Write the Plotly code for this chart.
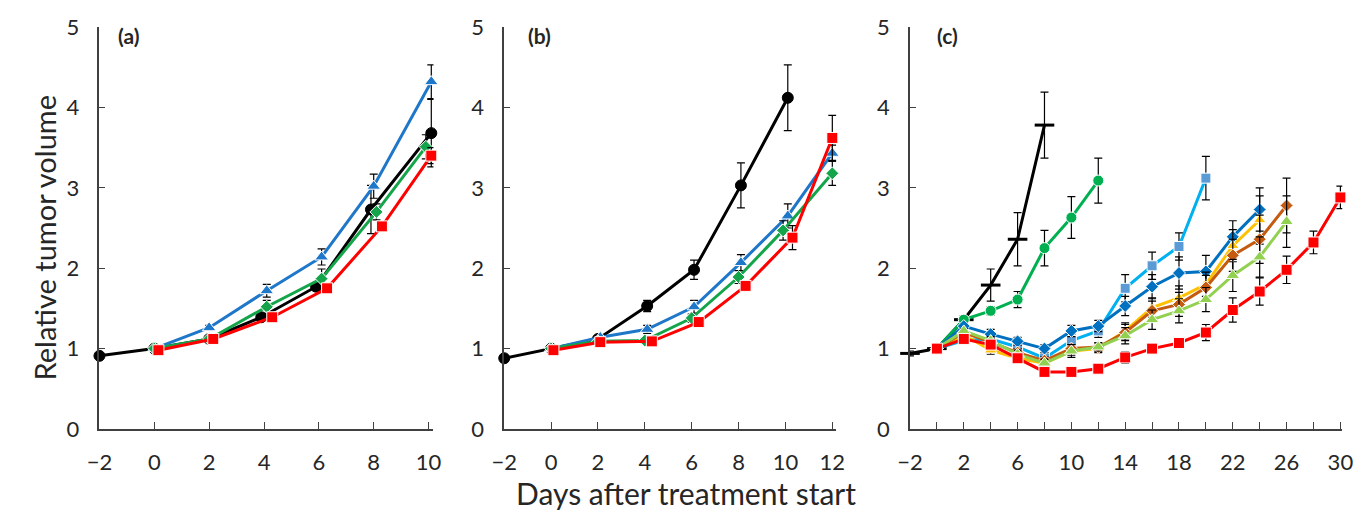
import plotly.graph_objects as go

# ---------------- data ----------------
# Panel (a)
a_black_x = [-2, 0, 2, 3.9, 5.9, 7.9, 10.1]
a_black_y = [0.91, 1.0, 1.12, 1.39, 1.77, 2.73, 3.68]
a_black_e = [0, 0, 0, 0.03, 0.05, 0.3, 0.42]
a_blue_x = [0, 2, 4.1, 6.1, 8.0, 10.1]
a_blue_y = [1.0, 1.26, 1.72, 2.14, 3.02, 4.32]
a_blue_e = [0, 0.03, 0.08, 0.1, 0.15, 0.21]
a_green_x = [0, 2, 4.1, 6.1, 8.1, 9.9]
a_green_y = [1.0, 1.12, 1.52, 1.87, 2.70, 3.51]
a_green_e = [0, 0.02, 0.08, 0.12, 0.1, 0.15]
a_red_x = [0.15, 2.15, 4.3, 6.3, 8.3, 10.1]
a_red_y = [0.98, 1.12, 1.39, 1.75, 2.52, 3.40]
a_red_e = [0, 0.02, 0.03, 0.04, 0.05, 0.1]

# Panel (b)
b_black_x = [-2, 0, 2, 4.1, 6.1, 8.1, 10.1]
b_black_y = [0.88, 1.0, 1.12, 1.53, 1.98, 3.03, 4.12]
b_black_e = [0, 0, 0, 0.07, 0.12, 0.28, 0.41]
b_blue_x = [0, 2.1, 4.1, 6.1, 8.1, 10.1, 12]
b_blue_y = [1.0, 1.14, 1.24, 1.52, 2.07, 2.65, 3.43]
b_blue_e = [0, 0.02, 0.05, 0.08, 0.1, 0.15, 0.1]
b_green_x = [0, 2, 4, 6, 8, 9.9, 12]
b_green_y = [1.0, 1.09, 1.10, 1.38, 1.89, 2.47, 3.18]
b_green_e = [0, 0.02, 0.03, 0.05, 0.08, 0.12, 0.15]
b_red_x = [0.1, 2.1, 4.3, 6.3, 8.3, 10.3, 12]
b_red_y = [0.98, 1.08, 1.09, 1.33, 1.78, 2.38, 3.62]
b_red_e = [0, 0.02, 0.02, 0.04, 0.06, 0.15, 0.28]

# Panel (c)
c_black_x = [-2, 0, 2, 4, 6, 8]
c_black_y = [0.94, 1.0, 1.36, 1.79, 2.36, 3.78]
c_black_e = [0.03, 0, 0.05, 0.2, 0.33, 0.41]
c_green_x = [0, 2, 4, 6, 8, 10, 12]
c_green_y = [1.0, 1.36, 1.47, 1.61, 2.25, 2.63, 3.09]
c_green_e = [0, 0.03, 0.05, 0.1, 0.22, 0.26, 0.28]
c_lblue_x = [0, 2, 4, 6, 8, 10, 12, 14, 16, 18, 20]
c_lblue_y = [1.0, 1.10, 1.12, 1.02, 0.88, 1.10, 1.22, 1.75, 2.03, 2.27, 3.12]
c_lblue_e = [0, 0.03, 0.05, 0.05, 0.06, 0.08, 0.08, 0.17, 0.17, 0.17, 0.27]
c_dblue_x = [0, 2, 4, 6, 8, 10, 12, 14, 16, 18, 20, 22, 24]
c_dblue_y = [1.0, 1.28, 1.18, 1.09, 1.0, 1.22, 1.28, 1.53, 1.77, 1.94, 1.96, 2.39, 2.73]
c_dblue_e = [0, 0.03, 0.06, 0.05, 0.05, 0.07, 0.07, 0.12, 0.15, 0.2, 0.2, 0.2, 0.27]
c_yellow_x = [0, 2, 4, 6, 8, 10, 12, 14, 16, 18, 20, 22, 24]
c_yellow_y = [1.0, 1.17, 0.98, 0.88, 0.82, 0.97, 1.0, 1.22, 1.51, 1.63, 1.80, 2.28, 2.60]
c_yellow_e = [0, 0.04, 0.05, 0.05, 0.05, 0.05, 0.05, 0.1, 0.12, 0.15, 0.15, 0.2, 0.3]
c_brown_x = [0, 2, 4, 6, 8, 10, 12, 14, 16, 18, 20, 22, 24, 26]
c_brown_y = [1.0, 1.2, 1.08, 0.95, 0.85, 1.0, 1.02, 1.2, 1.47, 1.55, 1.76, 2.16, 2.36, 2.78]
c_brown_e = [0, 0.03, 0.05, 0.05, 0.05, 0.05, 0.05, 0.1, 0.12, 0.15, 0.15, 0.2, 0.3, 0.34]
c_lgreen_x = [0, 2, 4, 6, 8, 10, 12, 14, 16, 18, 20, 22, 24, 26]
c_lgreen_y = [1.0, 1.22, 1.1, 0.93, 0.82, 0.97, 1.02, 1.16, 1.36, 1.47, 1.61, 1.91, 2.14, 2.58]
c_lgreen_e = [0, 0.03, 0.05, 0.05, 0.05, 0.08, 0.05, 0.1, 0.12, 0.15, 0.15, 0.2, 0.25, 0.32]
c_red_x = [0, 2, 4, 6, 8, 10, 12, 14, 16, 18, 20, 22, 24, 26, 28, 30]
c_red_y = [1.0, 1.12, 1.05, 0.88, 0.71, 0.71, 0.75, 0.89, 1.0, 1.07, 1.2, 1.48, 1.71, 1.98, 2.32, 2.88]
c_red_e = [0, 0.03, 0.04, 0.04, 0.03, 0.03, 0.03, 0.07, 0.05, 0.06, 0.1, 0.15, 0.17, 0.17, 0.14, 0.14]

x_ticks_ab = [-2, 0, 2, 4, 6, 8, 10, 12]
y_ticks = [0, 1, 2, 3, 4, 5]
panel_labels = ["(a)", "(b)", "(c)"]
x_title = "Days after treatment start"
y_title = "Relative tumor volume"

# ---------------- styles ----------------
FONT = "Lato"
AXC = "#404040"
TXT = "#262626"

fig = go.Figure()


def add(x, y, e, color, symbol, size, xa, ya, mcolor=None, lw=3, mline="white"):
    fig.add_trace(go.Scatter(
        x=x, y=y, xaxis=xa, yaxis=ya, mode="lines+markers",
        line=dict(color=color, width=lw),
        marker=dict(symbol=symbol, size=size, color=mcolor or color,
                    line=dict(color=mline, width=1)),
        error_y=dict(type="data", array=e, visible=True, color="#000000",
                     thickness=1.2, width=4),
        cliponaxis=False, showlegend=False,
    ))


BLACK = "#000000"
BLUE = "#1F77C9"
GREEN = "#14A54A"
RED = "#FF0000"

# (a)
add(a_black_x, a_black_y, a_black_e, BLACK, "circle", 11, "x", "y", mline=BLACK)
add(a_blue_x, a_blue_y, a_blue_e, BLUE, "triangle-up", 12, "x", "y")
add(a_green_x, a_green_y, a_green_e, GREEN, "diamond", 10, "x", "y")
add(a_red_x, a_red_y, a_red_e, RED, "square", 11, "x", "y")
# (b)
add(b_black_x, b_black_y, b_black_e, BLACK, "circle", 11, "x2", "y2", mline=BLACK)
add(b_blue_x, b_blue_y, b_blue_e, BLUE, "triangle-up", 12, "x2", "y2")
add(b_green_x, b_green_y, b_green_e, GREEN, "diamond", 10, "x2", "y2")
add(b_red_x, b_red_y, b_red_e, RED, "square", 11, "x2", "y2")
# (c)
add(c_black_x, c_black_y, c_black_e, BLACK, "line-ew", 14, "x3", "y3", mline=BLACK)
fig.data[-1].marker.line.width = 3
add(c_green_x, c_green_y, c_green_e, "#00B050", "circle", 11, "x3", "y3")
add(c_lblue_x, c_lblue_y, c_lblue_e, "#00B0F0", "square", 10, "x3", "y3", mcolor="#5B9BD5")
add(c_dblue_x, c_dblue_y, c_dblue_e, "#0070C0", "diamond", 10, "x3", "y3")
add(c_yellow_x, c_yellow_y, c_yellow_e, "#FFC000", "triangle-up", 11, "x3", "y3")
add(c_brown_x, c_brown_y, c_brown_e, "#C55A11", "diamond", 10, "x3", "y3")
add(c_lgreen_x, c_lgreen_y, c_lgreen_e, "#92D050", "triangle-up", 12, "x3", "y3")
add(c_red_x, c_red_y, c_red_e, RED, "square", 11, "x3", "y3")

W = 1368.0
common_x = dict(showline=True, linecolor=AXC, linewidth=1.5, ticks="inside",
                ticklen=7, tickcolor=AXC, tickwidth=1.2, showgrid=False,
                zeroline=False, tickfont=dict(family=FONT, size=22, color=TXT),
                ticklabelstandoff=13)
common_y = dict(showline=True, linecolor=AXC, linewidth=1.5, ticks="inside",
                ticklen=6, tickcolor=AXC, tickwidth=1.2, showgrid=False,
                zeroline=False, range=[0, 5], tickvals=y_ticks,
                tickfont=dict(family=FONT, size=22, color=TXT),
                ticklabelstandoff=14)

fig.update_layout(
    width=1368, height=512,
    margin=dict(l=0, r=0, t=27, b=83),
    plot_bgcolor="white", paper_bgcolor="white",
    xaxis=dict(domain=[88 / W, 428 / W], range=[-2, 10.18], anchor="y",
               tickvals=x_ticks_ab[:7], **common_x),
    yaxis=dict(anchor="x", **common_y),
    xaxis2=dict(domain=[500 / W, 838 / W], range=[-2, 12.17], anchor="y2",
                tickvals=x_ticks_ab, **common_x),
    yaxis2=dict(anchor="x2", **common_y),
    xaxis3=dict(domain=[913 / W, 1353 / W], range=[-2, 30.14], anchor="y3",
                tick0=-2, dtick=4,
                minor=dict(tick0=-2, dtick=2, ticks="inside", ticklen=7,
                           tickcolor=AXC, tickwidth=1.2, showgrid=False),
                **common_x),
    yaxis3=dict(anchor="x3", **common_y),
    annotations=[
        dict(text=y_title, x=32 / W, y=0.475, xref="paper", yref="paper",
             xanchor="center", yanchor="middle",
             textangle=-90, showarrow=False,
             font=dict(family=FONT, size=29, color=TXT)),
        dict(text=x_title, x=685 / W, y=-0.159, xref="paper", yref="paper",
             xanchor="center", yanchor="middle",
             showarrow=False, font=dict(family=FONT, size=30, color=TXT)),
        dict(text="<b>" + panel_labels[0] + "</b>", x=118 / W, y=0.98,
             xref="paper", yref="paper", xanchor="center", yanchor="middle",
             showarrow=False, font=dict(family=FONT, size=21, color=TXT)),
        dict(text="<b>" + panel_labels[1] + "</b>", x=536 / W, y=0.98,
             xref="paper", yref="paper", xanchor="center", yanchor="middle",
             showarrow=False, font=dict(family=FONT, size=21, color=TXT)),
        dict(text="<b>" + panel_labels[2] + "</b>", x=951 / W, y=0.98,
             xref="paper", yref="paper", xanchor="center", yanchor="middle",
             showarrow=False, font=dict(family=FONT, size=21, color=TXT)),
    ],
)

fig.write_html(
    "out.html",
    config={"displayModeBar": False},
    post_script="document.body.style.margin='0';document.body.style.overflow='hidden';",
)
